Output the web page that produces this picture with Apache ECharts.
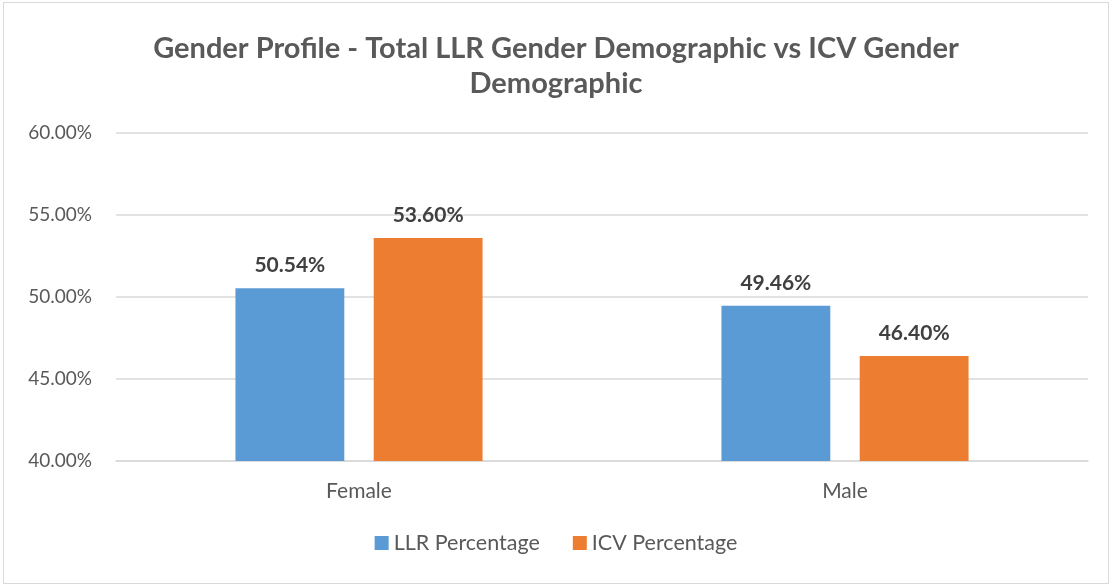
<!DOCTYPE html>
<html>
<head>
<meta charset="utf-8">
<script src="https://cdn.jsdelivr.net/npm/echarts@6/dist/echarts.min.js"></script>
<style>
  html, body { margin: 0; padding: 0; background: #fff; }
  #frame { position: absolute; left: 3px; top: 2px; width: 1104px; height: 580px; border: 1px solid #D9D9D9; }
  #chart { position: absolute; left: 0; top: 0; width: 1112px; height: 585px; }
</style>
</head>
<body>
<div id="frame"></div>
<div id="chart"></div>
<script>
// chart data
const categories = ['Female', 'Male'];
const llrValues = [50.54, 49.46];
const icvValues = [53.60, 46.40];
const seriesNames = ['LLR Percentage', 'ICV Percentage'];

const font = 'Lato, "Open Sans", sans-serif';
const chart = echarts.init(document.getElementById('chart'));

const option = {
    animation: false,
    title: {
        text: 'Gender Profile - Total LLR Gender Demographic vs ICV Gender\nDemographic',
        left: 'center',
        top: 26,
        textStyle: {
            fontFamily: font,
            fontSize: 29,
            fontWeight: 'bold',
            color: '#595959',
            lineHeight: 35
        }
    },
    legend: {
        bottom: 26,
        left: 'center',
        itemWidth: 14,
        itemHeight: 14,
        itemGap: 33,
        icon: 'rect',
        textStyle: { fontFamily: font, fontSize: 21.5, color: '#595959' },
        data: seriesNames
    },
    grid: { left: 116, right: 24, top: 133, bottom: 124 },
    xAxis: {
        type: 'category',
        data: categories,
        axisLine: { lineStyle: { color: '#D9D9D9', width: 1.5 } },
        axisTick: { show: false },
        axisLabel: { fontFamily: font, fontSize: 21, color: '#595959', margin: 20 }
    },
    yAxis: {
        type: 'value',
        min: 40,
        max: 60,
        interval: 5,
        axisLine: { show: false },
        axisTick: { show: false },
        splitLine: { lineStyle: { color: '#D9D9D9', width: 1.5 } },
        axisLabel: {
            fontFamily: font, fontSize: 19, color: '#595959', margin: 24,
            formatter: v => v.toFixed(2) + '%'
        }
    },
    series: [
        {
            name: seriesNames[0],
            type: 'bar',
            data: llrValues,
            barWidth: '22.4%',
            barGap: '27%',
            itemStyle: { color: '#5B9BD5' },
            label: {
                show: true, position: 'top', distance: 12,
                fontFamily: font, fontSize: 21, fontWeight: 'bold', color: '#404040',
                formatter: p => p.value.toFixed(2) + '%'
            }
        },
        {
            name: seriesNames[1],
            type: 'bar',
            data: icvValues,
            barWidth: '22.4%',
            itemStyle: { color: '#ED7D31' },
            label: {
                show: true, position: 'top', distance: 12,
                fontFamily: font, fontSize: 21, fontWeight: 'bold', color: '#404040',
                formatter: p => p.value.toFixed(2) + '%'
            }
        }
    ]
};

chart.setOption(option);
</script>
</body>
</html>
